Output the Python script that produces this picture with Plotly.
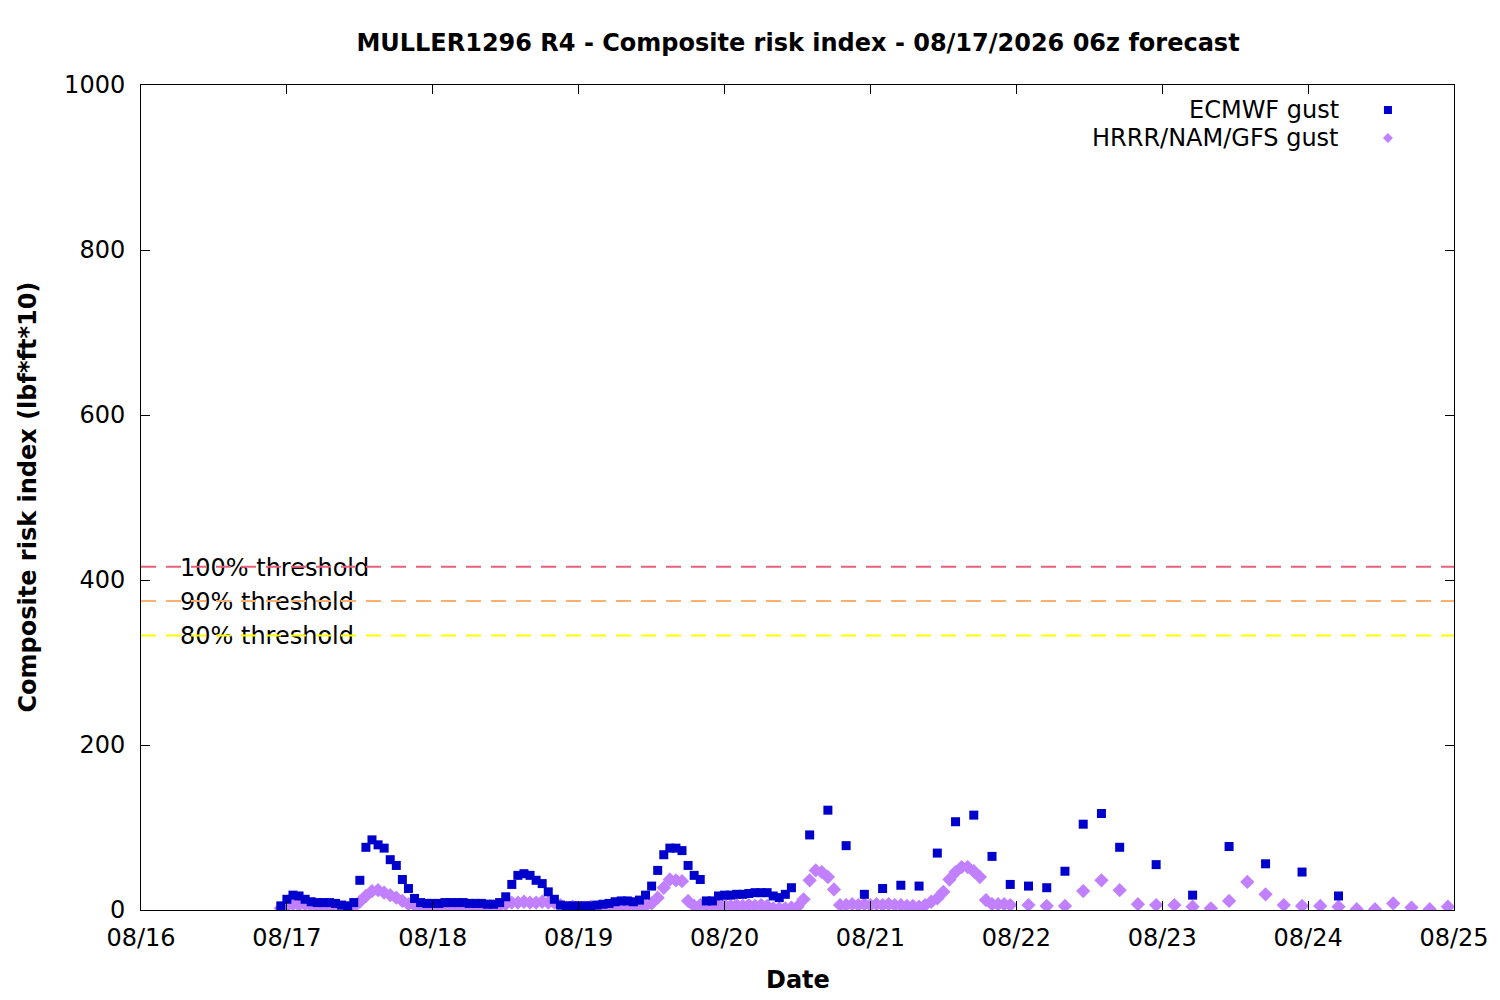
import datetime as dt
import plotly.graph_objects as go

# first forecast hour: 08/17 06z shown in local time (PDT)
start = dt.datetime(2026, 8, 16, 23, 0)

# ECMWF gust: hourly to +84h, 3-hourly to +138h, 6-hourly to +174h
ecmwf_hours = list(range(0, 85)) + list(range(87, 139, 3)) + list(range(144, 175, 6))
ecmwf_vals = [
    5, 13, 18, 17, 13, 10, 9, 9, 9, 8, 6, 5, 9, 36, 76, 85, 79, 75, 61, 54,
    37, 26, 14, 9, 8, 8, 8, 9, 9, 9, 9, 8, 8, 8, 7, 7, 9, 16, 31, 42,
    44, 42, 36, 32, 22, 13, 6, 5, 5, 5, 5, 5, 6, 7, 8, 10, 11, 11, 10, 12,
    18, 29, 48, 67, 75, 75, 72, 54, 42, 37, 11, 11, 17, 18, 18, 19, 19, 20, 21, 21,
    21, 17, 15, 19, 27,
    91, 121, 78, 19, 26, 30, 29, 69, 107, 115, 65, 31, 29, 27, 47, 104, 117, 76,
    55, 18, 77, 56, 46, 17,
]

# HRRR/NAM/GFS gust: hourly to +120h, then 3-hourly to +192h
hrrr_hours = list(range(0, 121)) + list(range(123, 193, 3))
hrrr_vals = [
    2, 5, 7, 6, 7, 5, 2, 2, 2, 2, 2, 2, 4, 10, 17, 23, 24, 21, 18, 15,
    11, 7, 6, 5, 4, 3, 4, 3, 4, 3, 4, 3, 4, 3, 4, 4, 5, 7, 9, 9,
    10, 9, 9, 10, 9, 9, 6, 3, 4, 3, 3, 4, 3, 3, 4, 3, 4, 4, 5, 5,
    5, 8, 15, 27, 37, 36, 35, 11, 5, 6, 5, 6, 5, 6, 5, 6, 5, 6, 5, 6,
    5, 2, 2, 2, 3, 4, 13, 36, 48, 46, 40, 25, 6, 6, 7, 6, 7, 6, 7, 6,
    7, 6, 6, 5, 5, 4, 6, 10, 14, 22, 37, 46, 52, 52, 47, 40, 12, 7, 7, 7,
    6,
    6, 5, 5, 23, 36, 24, 7, 6, 6, 4, 2, 11, 34, 19, 6, 5, 5, 4, 1, 1,
    8, 3, 1, 4,
]

thresholds = [416, 374.4, 332.8]
threshold_labels = ["100% threshold", "90% threshold", "80% threshold"]
threshold_colors = ["#e8607a", "#ffb070", "#ffff00"]

x_min = dt.datetime(2026, 8, 16)
x_max = dt.datetime(2026, 8, 25)

ecmwf_t = [start + dt.timedelta(hours=h) for h in ecmwf_hours]
hrrr_t = [start + dt.timedelta(hours=h) for h in hrrr_hours]

FONT = "DejaVu Sans"
FS = 24
# page body has an 8px margin, so the figure is a bit smaller than the window
W, H = 1492, 992

fig = go.Figure()

# threshold labels first so the dashed lines run over them
# (nudged down a few units so the dash crosses the middle of the lettering)
label_x = x_min + (x_max - x_min) * (39 / 1313)
for t, lab in zip(thresholds, threshold_labels):
    fig.add_trace(go.Scatter(
        x=[label_x], y=[t - 3.5], mode="text", text=[lab],
        textposition="middle right",
        textfont=dict(family=FONT, size=FS, color="black"),
        showlegend=False, hoverinfo="skip",
    ))
for t, c in zip(thresholds, threshold_colors):
    fig.add_trace(go.Scatter(
        x=[x_min, x_max], y=[t, t], mode="lines",
        line=dict(color=c, width=2, dash="15px,10px"),
        showlegend=False, hoverinfo="skip",
    ))

fig.add_trace(go.Scatter(
    x=hrrr_t, y=hrrr_vals, mode="markers", name="HRRR/NAM/GFS gust",
    marker=dict(symbol="diamond", size=11, color="#c080ff", line=dict(width=0)),
))
fig.add_trace(go.Scatter(
    x=ecmwf_t, y=ecmwf_vals, mode="markers", name="ECMWF gust",
    marker=dict(symbol="square", size=9, color="#0000cc", line=dict(width=0)),
))

# gnuplot-style key: text on the left, sample on the right
key = [("ECMWF gust", "#0000cc", "square", 0.9697),
       ("HRRR/NAM/GFS gust", "#c080ff", "diamond", 0.9358)]
shapes = []
annotations = []
for txt, col, sym, yk in key:
    annotations.append(dict(
        x=0.9117, y=yk, xref="paper", yref="paper", text=txt, showarrow=False,
        xanchor="right", yanchor="middle", xshift=3,
        font=dict(family=FONT, size=FS, color="black"),
    ))
    if sym == "square":
        shapes.append(dict(type="rect", xref="paper", yref="paper",
                           xsizemode="pixel", ysizemode="pixel",
                           xanchor=0.9497, yanchor=yk, x0=-4, x1=4, y0=-4, y1=4,
                           fillcolor=col, line=dict(width=0)))
    else:
        shapes.append(dict(type="path", xref="paper", yref="paper",
                           xsizemode="pixel", ysizemode="pixel",
                           xanchor=0.9497, yanchor=yk,
                           path="M 0 -5 L 5 0 L 0 5 L -5 0 Z",
                           fillcolor=col, line=dict(width=0)))

annotations.append(dict(
    x=-0.0868, y=0.5, xref="paper", yref="paper", text="<b>Composite risk index (lbf*ft*10)</b>",
    textangle=-90, showarrow=False, xanchor="center", yanchor="middle",
    font=dict(family=FONT, size=FS, color="black"),
))
annotations.append(dict(
    x=0.5, y=-0.0848, xref="paper", yref="paper", text="<b>Date</b>",
    showarrow=False, xanchor="center", yanchor="middle",
    font=dict(family=FONT, size=FS, color="black"),
))

fig.update_layout(
    width=W, height=H,
    margin=dict(l=133, r=46, t=77, b=90),
    paper_bgcolor="white", plot_bgcolor="white",
    showlegend=False,
    title=dict(text="<b>MULLER1296 R4 - Composite risk index - 08/17/2026 06z forecast</b>",
               x=(798 - 8) / W, xanchor="center", y=1 - (43 - 8) / H, yanchor="middle",
               font=dict(family=FONT, size=FS, color="black")),
    font=dict(family=FONT, size=FS, color="black"),
    shapes=shapes,
    annotations=annotations,
)
fig.update_xaxes(
    type="date", range=[x_min, x_max], dtick=86400000, tick0=x_min,
    tickformat="%m/%d", showgrid=False, zeroline=False,
    showline=True, linecolor="black", linewidth=1, mirror="ticks",
    ticks="inside", ticklen=9, tickcolor="black", ticklabelstandoff=6,
)
fig.update_yaxes(
    range=[0, 1000], dtick=200, showgrid=False, zeroline=False,
    showline=True, linecolor="black", linewidth=1, mirror="ticks",
    ticks="inside", ticklen=9, tickcolor="black", ticklabelstandoff=10,
)

fig.write_html("out.html")
